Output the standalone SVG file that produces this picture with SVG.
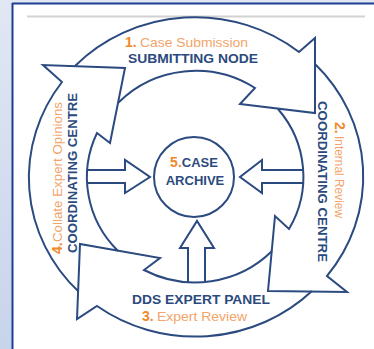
<svg xmlns="http://www.w3.org/2000/svg" width="374" height="349" viewBox="0 0 374 349">
<defs>
<linearGradient id="bg" x1="0" y1="0" x2="0" y2="1">
<stop offset="0" stop-color="#e1e7f3"/>
<stop offset="1" stop-color="#c8d4ec"/>
</linearGradient>
<style>
.ar{fill:none;stroke:#2b4a80;stroke-width:2;stroke-linejoin:miter}
.bl{fill:#fff;stroke:#2b4a80;stroke-width:2;stroke-linejoin:miter}
.t{font-family:"Liberation Sans",Arial,sans-serif;font-weight:bold;font-size:13px;fill:#2b4a7e}
.n{font-family:"Liberation Sans",Arial,sans-serif;font-weight:bold;font-size:14px;fill:#f0892a}
.o{font-family:"Liberation Sans",Arial,sans-serif;font-size:13px;fill:#f2a46a}
</style>
</defs>
<rect x="0" y="0" width="374" height="349" fill="url(#bg)"/>
<rect x="13" y="4" width="361" height="345" fill="#fff"/>
<line x1="12.5" y1="3" x2="12.5" y2="349" stroke="#1c3f94" stroke-width="2"/>
<line x1="12" y1="3.5" x2="374" y2="3.5" stroke="#1c3f94" stroke-width="2"/>
<line x1="27" y1="16.5" x2="365" y2="16.5" stroke="#d2d2d2" stroke-width="2"/>

<g id="connectors">
<path class="ar" d="M 88,170 L 125,170 L 125,160 L 150,177 L 125,193 L 125,183 L 88,183"/>
<path class="ar" d="M 303,170 L 262,170 L 262,160 L 240,177 L 262,193 L 262,183 L 303,183"/>
<path class="ar" d="M 188,282 L 188,248 L 180,248 L 197,221 L 214,248 L 205,248 L 205,282"/>
</g>

<g id="node1">
<path class="ar" d="M 75,66 A 167 160 0 0 1 299,52 L 315,38 L 315,113 L 240,104 L 255,88 A 108 105 0 0 0 118.5,102.5"/>
<text class="n" x="125" y="47">1.</text>
<text class="o" x="140" y="47" textLength="108" lengthAdjust="spacingAndGlyphs">Case Submission</text>
<text class="t" x="128" y="63" textLength="130" lengthAdjust="spacingAndGlyphs">SUBMITTING NODE</text>
</g>

<g id="node2">
<path class="ar" d="M 315,64 A 167 160 0 0 1 327,276 L 347,292 L 268,291 L 275,216 L 289,229 A 108 105 0 0 0 278,109"/>
<g transform="translate(335,122) rotate(90)">
<text class="n" x="0" y="0">2.</text>
<text class="o" x="14" y="0" textLength="82" lengthAdjust="spacingAndGlyphs">Internal Review</text>
</g>
<text class="t" transform="translate(318,101) rotate(90)" x="0" y="0" textLength="161" lengthAdjust="spacingAndGlyphs">COORDINATING CENTRE</text>
</g>

<g id="node3">
<path class="ar" d="M 312,291 A 167 160 0 0 1 97,306 L 77,319 L 80,244 L 160,258 L 144,270 A 108 105 0 0 0 272,251"/>
<text class="t" x="132" y="304" textLength="138" lengthAdjust="spacingAndGlyphs">DDS EXPERT PANEL</text>
<text class="n" x="142" y="321">3.</text>
<text class="o" x="157" y="321" textLength="90" lengthAdjust="spacingAndGlyphs">Expert Review</text>
</g>

<g id="node4">
<path class="ar" d="M 78.5,291.5 A 167 160 0 0 1 62,82 L 43,65 L 125,68 L 110,143 L 97,133 A 108 105 0 0 0 118,251"/>
<g transform="translate(62,254) rotate(-90)">
<text class="n" x="0" y="0">4.</text>
<text class="o" x="12" y="0" textLength="140" lengthAdjust="spacingAndGlyphs">Collate Expert Opinions</text>
</g>
<text class="t" transform="translate(77,253) rotate(-90)" x="0" y="0" textLength="160" lengthAdjust="spacingAndGlyphs">COORDINATING CENTRE</text>
</g>

<g id="node5">
<circle class="bl" cx="194" cy="177" r="40"/>
<text x="194" y="167" text-anchor="middle"><tspan class="n">5.</tspan><tspan class="t" font-size="14">CASE</tspan></text>
<text class="t" x="195" y="185" text-anchor="middle" font-size="14">ARCHIVE</text>
</g>
</svg>
